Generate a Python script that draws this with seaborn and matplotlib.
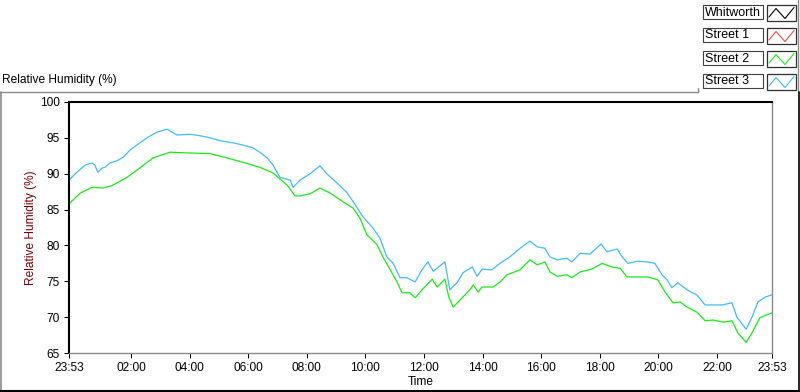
import matplotlib
matplotlib.use("Agg")
import matplotlib.pyplot as plt
import numpy as np
import pandas as pd
import seaborn as sns
from matplotlib.lines import Line2D
from matplotlib.patches import Rectangle

# ---------------- data ----------------
series_names = ["Whitworth", "Street 1", "Street 2", "Street 3"]
series_colors = ["#000000", "#FF4848", "#18EC18", "#40BCFF"]

# minutes after 23:53 (start of record)
street2_minutes = [0, 23, 47, 70, 90, 119, 145, 172, 207, 242, 289, 324, 356, 391,
                   418, 447, 463, 473, 494, 514, 535, 561, 582, 596, 610, 631, 643,
                   658, 672, 682, 698, 709, 723, 744, 754, 770, 778, 787, 801, 821,
                   828, 838, 846, 869, 883, 897, 924, 944, 959, 975, 985, 1000, 1020,
                   1030, 1047, 1071, 1092, 1112, 1129, 1143, 1166, 1186, 1206, 1221,
                   1237, 1252, 1266, 1286, 1303, 1319, 1340, 1358, 1370, 1387, 1399,
                   1415, 1432, 1440]
street2_rh = [85.8, 87.3, 88.1, 88.0, 88.4, 89.5, 90.8, 92.2, 93.0, 92.9, 92.8, 92.2,
              91.6, 90.9, 90.1, 88.4, 86.9, 86.9, 87.2, 88.0, 87.3, 86.1, 85.2, 83.8,
              81.5, 80.1, 78.4, 76.6, 74.9, 73.4, 73.4, 72.7, 73.8, 75.3, 74.2, 75.3,
              72.8, 71.4, 72.4, 73.8, 74.5, 73.5, 74.2, 74.2, 74.9, 75.9, 76.6, 78.0,
              77.3, 77.7, 76.3, 75.7, 75.9, 75.5, 76.3, 76.7, 77.5, 77.0, 76.8, 75.6,
              75.6, 75.6, 75.2, 73.5, 72.0, 72.1, 71.4, 70.7, 69.5, 69.6, 69.3, 69.5,
              67.8, 66.5, 67.8, 69.9, 70.4, 70.6]

street3_minutes = [0, 16, 33, 47, 53, 59, 68, 74, 84, 98, 111, 125, 145, 162, 180,
                   201, 211, 221, 248, 268, 289, 309, 336, 356, 377, 391, 406, 418,
                   432, 453, 459, 473, 494, 514, 528, 549, 569, 582, 602, 623, 637,
                   651, 664, 678, 692, 709, 723, 735, 746, 770, 780, 795, 807, 826,
                   836, 846, 866, 883, 903, 924, 944, 959, 975, 985, 1000, 1020, 1030,
                   1047, 1067, 1090, 1102, 1123, 1133, 1145, 1164, 1184, 1200, 1215,
                   1225, 1235, 1247, 1266, 1286, 1303, 1319, 1338, 1358, 1368, 1387,
                   1399, 1411, 1426, 1440]
street3_rh = [89.1, 90.2, 91.2, 91.5, 91.2, 90.2, 90.8, 90.9, 91.5, 91.8, 92.3, 93.3,
              94.3, 95.1, 95.8, 96.2, 95.8, 95.4, 95.5, 95.3, 95.0, 94.6, 94.3, 94.0,
              93.6, 93.0, 92.2, 91.2, 89.5, 89.1, 88.1, 89.1, 90.0, 91.1, 90.0, 88.7,
              87.4, 86.1, 84.0, 82.4, 81.0, 78.4, 77.5, 75.5, 75.5, 74.9, 76.6, 77.7,
              76.4, 77.7, 73.8, 74.8, 76.2, 77.0, 75.7, 76.7, 76.6, 77.5, 78.4, 79.6,
              80.6, 79.8, 79.6, 78.4, 78.0, 78.2, 77.7, 78.9, 78.8, 80.2, 79.1, 79.5,
              78.4, 77.5, 77.8, 77.7, 77.5, 75.9, 75.2, 74.1, 74.8, 73.8, 73.1, 71.7,
              71.7, 71.7, 72.0, 70.0, 68.3, 70.0, 72.1, 72.8, 73.1]

x_tick_minutes = [0, 127, 247, 367, 487, 607, 727, 847, 967, 1087, 1207, 1327, 1440]
x_tick_labels = ["23:53", "02:00", "04:00", "06:00", "08:00", "10:00", "12:00",
                 "14:00", "16:00", "18:00", "20:00", "22:00", "23:53"]
x_minor_minutes = list(range(7, 1440, 24))
y_ticks = [65, 70, 75, 80, 85, 90, 95, 100]

# ---------------- style ----------------
sns.set_style("white")
plt.rcParams["font.family"] = ["Liberation Sans", "DejaVu Sans"]
FS = 8.6

W, H = 800, 392
fig = plt.figure(figsize=(W / 100, H / 100), dpi=100)
fig.patch.set_facecolor("white")

def fx(px):
    return px / W

def fy(py):
    return 1 - py / H

ax = fig.add_axes([fx(69), fy(353), (772 - 69) / W, (353 - 102) / H])

df = pd.concat([
    pd.DataFrame({"Minutes": street2_minutes, "RH": street2_rh, "Sensor": "Street 2"}),
    pd.DataFrame({"Minutes": street3_minutes, "RH": street3_rh, "Sensor": "Street 3"}),
])
palette = dict(zip(series_names, series_colors))
sns.lineplot(data=df, x="Minutes", y="RH", hue="Sensor", palette=palette,
             estimator=None, legend=False, linewidth=0.9, ax=ax)

ax.set_xlim(0, 1440)
ax.set_ylim(65, 100)
ax.set_xticks(x_tick_minutes)
ax.set_xticklabels(x_tick_labels)
ax.set_xticks(x_minor_minutes, minor=True)
ax.set_yticks(y_ticks)
ax.set_yticklabels([str(v) for v in y_ticks])

ax.tick_params(axis="both", which="major", length=3.8, width=0.75, color="black",
               labelsize=FS, pad=3.0, labelcolor="black")
ax.tick_params(axis="x", which="minor", length=2.4, width=0.75, color="black")
ax.tick_params(axis="x", which="major", bottom=True)
ax.tick_params(axis="y", which="major", left=True)

for side in ["left", "top"]:
    ax.spines[side].set_color("black")
    ax.spines[side].set_linewidth(1.5)
for side in ["bottom", "right"]:
    ax.spines[side].set_color("#8a8a8a")
    ax.spines[side].set_linewidth(1.0)

ax.set_xlabel("Time", fontsize=FS, color="black", labelpad=1.0)
ax.set_ylabel("Relative Humidity (%)", fontsize=FS, color="#7a0000")
ax.yaxis.set_label_coords(-0.046, 0.5)

# chart title (top-left)
fig.text(fx(2), fy(80), "Relative Humidity (%)", fontsize=FS, ha="left", va="center",
         color="black")

# panel frame lines
fig.add_artist(Line2D([fx(0), fx(698)], [fy(92), fy(92)], color="#8a8a8a", lw=1.0))
fig.add_artist(Line2D([fx(698), fx(698)], [fy(88), fy(92)], color="#8a8a8a", lw=1.0))
fig.add_artist(Line2D([fx(0.8), fx(0.8)], [fy(92), fy(390)], color="#8a8a8a", lw=1.2))
fig.add_artist(Line2D([fx(0), fx(800)], [fy(390.5), fy(390.5)], color="black", lw=1.5))
fig.add_artist(Line2D([fx(797.5), fx(797.5)], [fy(0), fy(92)], color="#8a8a8a", lw=1.0))
fig.add_artist(Line2D([fx(799.3), fx(799.3)], [fy(92), fy(392)], color="black", lw=1.2))

# legend (LabVIEW-style plot legend)
box_tops = [5, 28, 51, 74]
box_h = 14
for name, col, top in zip(series_names, series_colors, box_tops):
    fig.add_artist(Rectangle((fx(703), fy(top + box_h)), (763 - 703) / W, box_h / H,
                             facecolor="white", edgecolor="#404040", lw=0.8,
                             transform=fig.transFigure))
    fig.text(fx(705), fy(top + box_h / 2 + 0.5), name, fontsize=FS + 0.4, ha="left",
             va="center", color="black")
    fig.add_artist(Rectangle((fx(767), fy(top + box_h + 2)), (796 - 767) / W,
                             (box_h + 2) / H, facecolor="white", edgecolor="#303030",
                             lw=0.9, transform=fig.transFigure))
    sx = [769, 776, 785, 794]
    sy = [top + 12, top + 3.5, top + 13.5, top + 2.5]
    fig.add_artist(Line2D([fx(v) for v in sx], [fy(v) for v in sy], color=col,
                          lw=0.8))

fig.savefig("out.png", dpi=100)
